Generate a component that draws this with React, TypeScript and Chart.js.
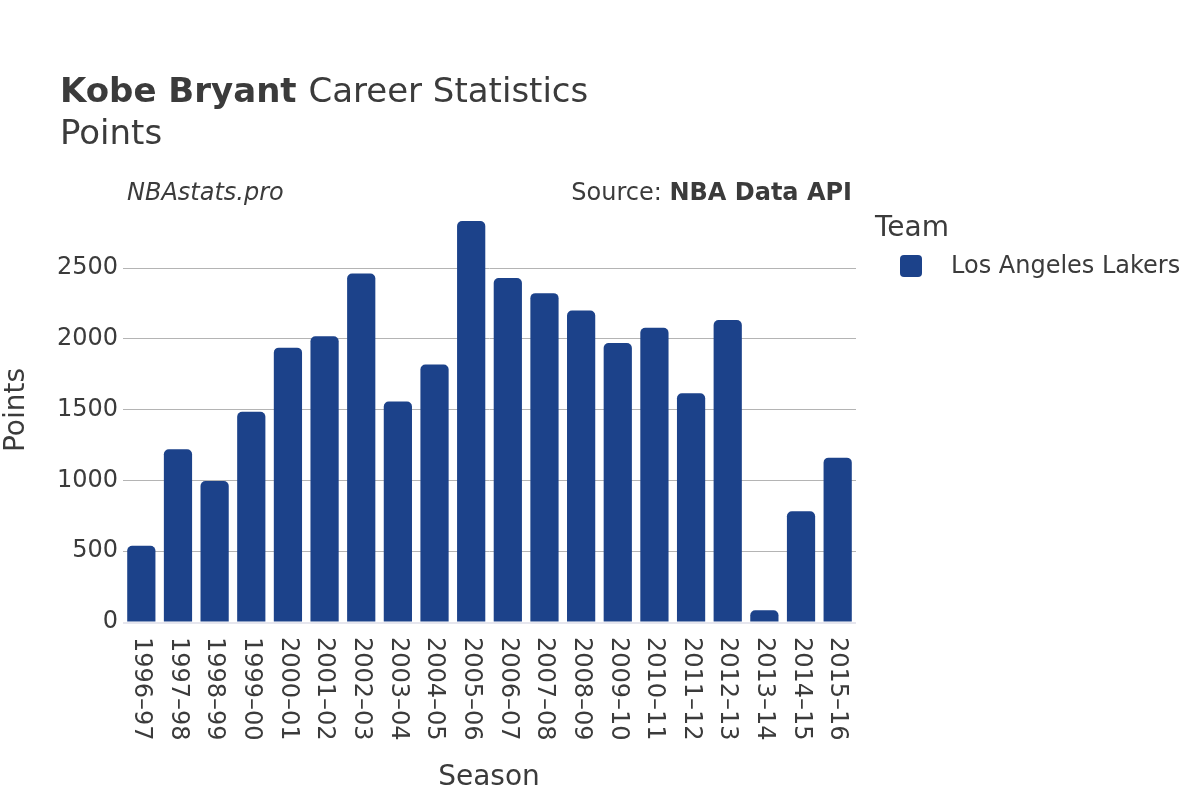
import React, { useEffect, useRef } from "react";
import { Chart, registerables } from "chart.js";

Chart.register(...registerables);

const seasons = [
  "1996–97", "1997–98", "1998–99", "1999–00", "2000–01", "2001–02", "2002–03",
  "2003–04", "2004–05", "2005–06", "2006–07", "2007–08", "2008–09", "2009–10",
  "2010–11", "2011–12", "2012–13", "2013–14", "2014–15", "2015–16",
];
const points = [
  539, 1220, 996, 1485, 1938, 2019, 2461, 1557, 1819, 2832, 2430, 2323, 2201,
  1970, 2078, 1616, 2133, 83, 782, 1161,
];
const yTicks = [0, 500, 1000, 1500, 2000, 2500];
const yMax = 2981;
const teamName = "Los Angeles Lakers";
const barColor = "#1c428a";

const FONT = "'DejaVu Sans', sans-serif";
const TEXT = "#3b3b3b";

const overlay = {
  id: "overlay",
  afterDraw(chart: any) {
    const ctx = chart.ctx as CanvasRenderingContext2D;
    const area = chart.chartArea;
    const x = chart.scales.x;
    ctx.save();
    ctx.fillStyle = TEXT;
    ctx.textBaseline = "alphabetic";
    // title
    ctx.textAlign = "left";
    ctx.font = `bold 34px ${FONT}`;
    ctx.fillText("Kobe Bryant", 60, 102);
    const w = ctx.measureText("Kobe Bryant ").width;
    ctx.font = `34px ${FONT}`;
    ctx.fillText("Career Statistics", 60 + w, 102);
    ctx.fillText("Points", 60, 144);
    // subtitle row
    ctx.font = `italic 24px ${FONT}`;
    ctx.fillText("NBAstats.pro", 127, 200);
    ctx.textAlign = "right";
    ctx.font = `bold 24px ${FONT}`;
    ctx.fillText("NBA Data API", 852, 200);
    const bw = ctx.measureText("NBA Data API").width;
    ctx.font = `24px ${FONT}`;
    ctx.fillText("Source: ", 852 - bw, 200);
    // legend
    ctx.textAlign = "left";
    ctx.font = `28px ${FONT}`;
    ctx.fillText("Team", 875, 236);
    ctx.fillStyle = barColor;
    ctx.beginPath();
    (ctx as any).roundRect(900, 255, 22, 22, 4);
    ctx.fill();
    ctx.fillStyle = TEXT;
    ctx.font = `24px ${FONT}`;
    ctx.textBaseline = "middle";
    ctx.fillText(teamName, 951, 267);
    // axis titles
    ctx.textAlign = "center";
    ctx.font = `28px ${FONT}`;
    ctx.fillText("Season", 489, 778);
    ctx.save();
    ctx.translate(17, 410);
    ctx.rotate(-Math.PI / 2);
    ctx.fillText("Points", 0, 0);
    ctx.restore();
    // x tick labels rotated clockwise
    ctx.font = `24px ${FONT}`;
    ctx.textAlign = "left";
    ctx.textBaseline = "middle";
    seasons.forEach((s, i) => {
      const px = x.getPixelForValue(i);
      ctx.save();
      ctx.translate(px, area.bottom + 15);
      ctx.rotate(Math.PI / 2);
      ctx.fillText(s, 0, 0);
      ctx.restore();
    });
    // zero line
    ctx.strokeStyle = "#e6e6ee";
    ctx.lineWidth = 2;
    ctx.beginPath();
    ctx.moveTo(area.left, area.bottom + 1);
    ctx.lineTo(area.right, area.bottom + 1);
    ctx.stroke();
    ctx.restore();
  },
};

export default function App() {
  const ref = useRef<HTMLCanvasElement>(null);
  useEffect(() => {
    if (!ref.current) return;
    const chart = new Chart(ref.current, {
      type: "bar",
      data: {
        labels: seasons,
        datasets: [
          {
            label: teamName,
            data: points,
            backgroundColor: barColor,
            borderRadius: { topLeft: 5, topRight: 5, bottomLeft: 0, bottomRight: 0 },
            borderSkipped: "bottom",
            barPercentage: 0.77,
            categoryPercentage: 1,
          },
        ],
      },
      options: {
        responsive: false,
        animation: false,
        layout: { padding: { left: 0, right: 344, top: 200, bottom: 0 } },
        plugins: { legend: { display: false }, title: { display: false }, tooltip: { enabled: false } },
        scales: {
          x: {
            grid: { display: false, drawTicks: false },
            border: { display: false },
            ticks: { display: false },
            afterFit: (s: any) => { s.height = 178; },
          },
          y: {
            min: 0,
            max: yMax,
            afterBuildTicks: (s: any) => { s.ticks = yTicks.map((v) => ({ value: v })); },
            grid: {
              color: (c: any) => (c.tick && c.tick.value === 0 ? "rgba(0,0,0,0)" : "#b4b4b4"),
              lineWidth: 1,
              drawTicks: false,
            },
            border: { display: false },
            ticks: {
              color: TEXT,
              font: { family: FONT, size: 24 },
              padding: 5,
              callback: (v: any) => String(v),
            },
            afterFit: (s: any) => { s.width = 123; },
          },
        },
      },
      plugins: [overlay],
    });
    return () => chart.destroy();
  }, []);
  return (
    <div style={{ position: "absolute", left: 0, top: 0, width: 1200, height: 800, background: "#fff" }}>
      <canvas ref={ref} width={1200} height={800} />
    </div>
  );
}
